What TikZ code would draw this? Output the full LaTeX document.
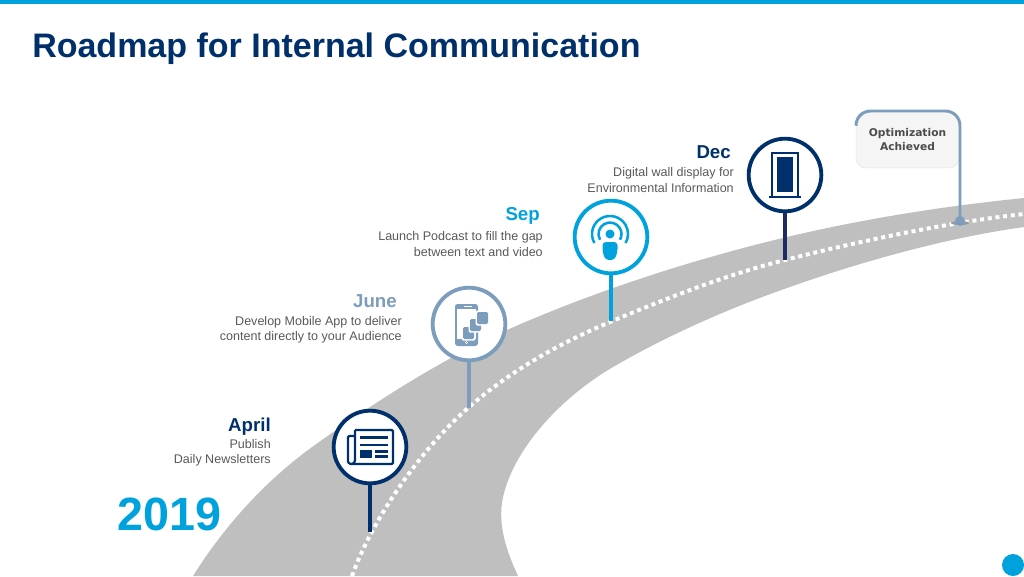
\documentclass[tikz,border=0pt]{standalone}
\usepackage{fontspec}
\setmainfont{Liberation Sans}
\newfontfamily\vera{DejaVu Sans}
\definecolor{navy}{HTML}{00306B}
\definecolor{sky}{HTML}{00A2DE}
\definecolor{steel}{HTML}{7C9DBB}
\definecolor{road}{HTML}{BFBFBF}
\definecolor{body}{HTML}{595959}
\definecolor{pale}{HTML}{F5F5F5}
\definecolor{indigo}{HTML}{1F2A60}
\tikzset{
  pin/.style={circle,draw=#1,fill=white,line width=2.9pt,minimum size=54.5pt,inner sep=0pt},
  stem/.style={draw=#1,line width=2.8pt},
  month/.style={font=\fontsize{14}{15}\selectfont\bfseries,text=#1,inner sep=0pt},
  desc/.style={font=\fontsize{9.4}{11.4}\selectfont,text=body,align=right,anchor=east,inner sep=0pt}
}
\begin{document}
\begin{tikzpicture}[x=0.75pt,y=-0.75pt]
\useasboundingbox (0,0) rectangle (1024,576);
\fill[white] (0,0) rectangle (1024,576);
\fill[sky] (0,0) rectangle (1024,4);
% road
\begin{scope}
\clip (0,0) rectangle (1024,576);
\fill[road] (193,576) .. controls (225,525) and (265,482) .. (308,450)
  .. controls (370,405) and (440,360) .. (507,330)
  .. controls (590,293) and (690,260) .. (787,237)
  .. controls (865,218.5) and (945,206) .. (1024,198)
  -- (1024,227) .. controls (945,238) and (860,262) .. (787,288)
  .. controls (730,308) and (670,334) .. (613,367)
  .. controls (565,395) and (515,445) .. (503,497)
  .. controls (497,525) and (507,552) .. (518,576) -- cycle;
\draw[white,line width=3pt,dash pattern=on 3pt off 2.8pt]
  (352,576) .. controls (372,520) and (420,450) .. (468,408)
  .. controls (510,371) and (560,343) .. (610,322)
  .. controls (665,299) and (725,275) .. (785,260)
  .. controls (860,241) and (950,222) .. (1024,214);
\end{scope}
% text
\node[anchor=west,inner sep=0pt,font=\fontsize{25.5}{30}\selectfont\bfseries,text=navy] (title) at (32,49) {Roadmap for Internal Communication};
\node[anchor=west,inner sep=0pt,font=\fontsize{35}{40}\selectfont\bfseries,text=sky] (year) at (117,514) {2019};
% April
\coordinate (aEnd) at (370,532);
\node[pin=navy] (a) at (370,447) {};
\draw[stem=navy,line width=2.3pt] (a.south) -- (aEnd);
\node[month=navy,anchor=east] (am) at (271,427) {April};
\node[desc] (ad) at (271,453) {Publish\\Daily Newsletters};
% June
\coordinate (jEnd) at (469,408);
\node[pin=steel] (j) at (469,324) {};
\draw[stem=steel] (j.south) -- (jEnd);
\node[month=steel,anchor=east] (jm) at (397,301) {June};
\node[desc] (jd) at (402,330) {Develop Mobile App to deliver\\content directly to your Audience};
% Sep
\coordinate (sEnd) at (611,321);
\node[pin=sky] (s) at (611,237) {};
\draw[stem=sky] (s.south) -- (sEnd);
\node[month=sky,anchor=east] (sm) at (540,216) {Sep};
\node[desc] (sd) at (543,244) {Launch Podcast to fill the gap\\between text and video};
% Dec
\coordinate (dEnd) at (785,260);
\node[pin=navy] (d) at (785,175) {};
\draw[stem=indigo] (d.south) -- (dEnd);
\node[month=navy,anchor=east] (dm) at (731,152) {Dec};
\node[desc] (dd) at (734,180) {Digital wall display for\\Environmental Information};
% Flag
\node[draw=black!10,fill=pale,rounded corners=7pt,minimum width=77pt,minimum height=42.5pt,inner sep=0pt,align=center,
  font=\vera\fontsize{8}{10}\selectfont\bfseries,text=black!70] (flag) at (907.5,139.5) {Optimization\\Achieved};
\fill[black!40] (960,223) ellipse (9 and 2);
\node[circle,fill=steel,minimum size=7.5pt,inner sep=0pt] (pt) at (960,221) {};
\draw[steel,line width=2.2pt,rounded corners=11pt] (pt.center) -- (960,111) -- (856,111) -- (856,123);
% corner dot
\node[circle,fill=sky,minimum size=16.5pt,inner sep=0pt] (dot) at (1013,565) {};
% newspaper icon
\begin{scope}[shift={(370,447)}]
  \draw[navy,line width=1.7pt,rounded corners=1pt,fill=white] (-15,-17) -- (23,-17) -- (23,17) -- (-18,17) .. controls (-21,17) and (-22,15) .. (-22,13) -- (-22,-11) -- (-15,-11);
  \draw[navy,line width=1.7pt] (-15,-17) -- (-15,13) .. controls (-15,15) and (-16,17) .. (-18,17);
  \fill[navy] (-10,-11) rectangle (18,-8);
  \fill[navy] (-10,-3.5) rectangle (18,-1);
  \fill[navy] (-10,3) rectangle (2,10.5);
  \fill[navy] (5,3) rectangle (18,5.5);
  \fill[navy] (5,8) rectangle (18,10.5);
\end{scope}
% phone icon
\begin{scope}[shift={(469,324)}]
  \fill[steel,rounded corners=2pt] (-14,-20) rectangle (9,22);
  \fill[white] (-12,-15) rectangle (7,15);
  \fill[white] (-5,-18.2) rectangle (3,-17);
  \fill[white] (-2.5,18.5) circle (1.6);
  \fill[steel] (-2.5,18.5) circle (0.7);
  \foreach \p/\q in {-6/3,1/-5,8/-12}{
    \fill[white,rounded corners=1pt] (\p-1.5,\q-1.5) rectangle (\p+12.5,\q+13.5);
    \fill[steel,rounded corners=1pt] (\p,\q) rectangle (\p+11,\q+12);
  }
\end{scope}
% podcast icon
\begin{scope}[shift={(610,234)}]
  \draw[sky,line width=1.9pt] (150:11.5) arc[start angle=150,end angle=390,radius=11.5];
  \draw[sky,line width=1.9pt] (150:18) arc[start angle=150,end angle=390,radius=18];
  \fill[sky] (0,0) circle (4.5);
  \fill[sky,rounded corners=2.5pt] (-7.5,8) -- (7.5,8) -- (7.5,18) -- (4.5,26) -- (-4.5,26) -- (-7.5,18) -- cycle;
\end{scope}
% door icon
\begin{scope}[shift={(785,175)}]
  \draw[navy,line width=1pt] (-13,21) -- (-13,-22) -- (13,-22) -- (13,21);
  \fill[navy] (-8,-18) rectangle (8,17);
  \draw[navy,line width=1.2pt] (-16,22) -- (16,22);
\end{scope}
\end{tikzpicture}
\end{document}
